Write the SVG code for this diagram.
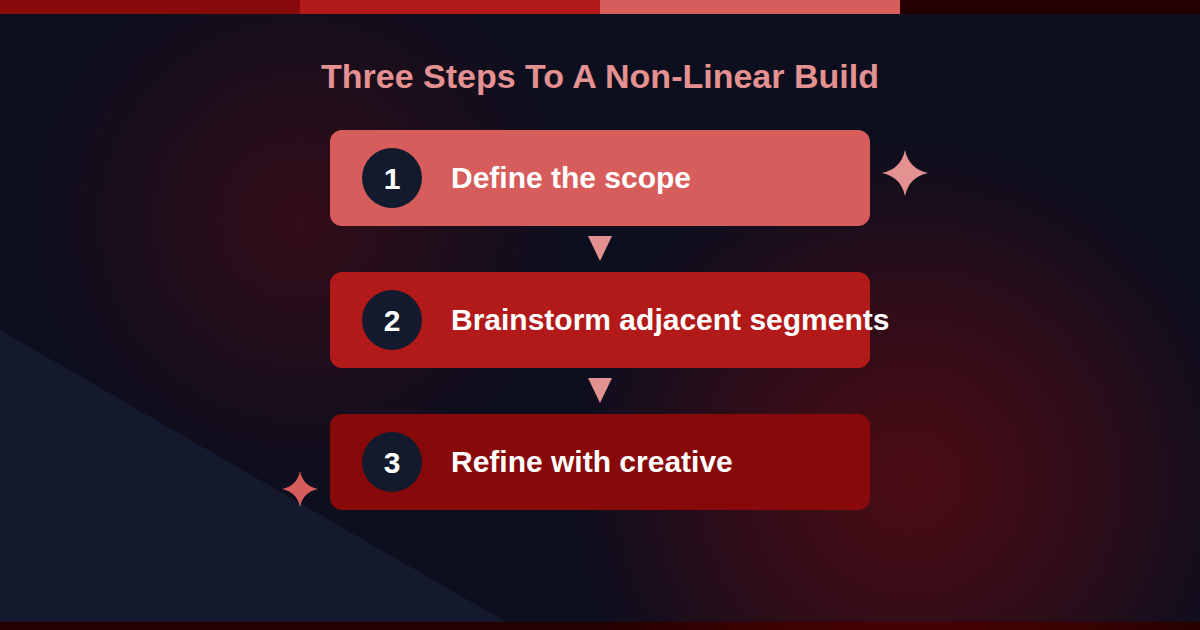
<svg xmlns="http://www.w3.org/2000/svg" width="1200" height="630" viewBox="0 0 1200 630">
<defs>
<radialGradient id="g1" cx="300" cy="220" r="270" gradientUnits="userSpaceOnUse">
<stop offset="0" stop-color="#8B0A0A" stop-opacity="0.3"/>
<stop offset="1" stop-color="#8B0A0A" stop-opacity="0"/>
</radialGradient>
<radialGradient id="g2" cx="910" cy="480" r="340" gradientUnits="userSpaceOnUse">
<stop offset="0" stop-color="#8B0A0A" stop-opacity="0.5"/>
<stop offset="0.5" stop-color="#8B0A0A" stop-opacity="0.28"/>
<stop offset="1" stop-color="#8B0A0A" stop-opacity="0"/>
</radialGradient>
</defs>
<style>
.title{font-family:"Liberation Sans",Arial,sans-serif;font-weight:bold;font-size:34px;fill:#E39191;}
.num{font-family:"Liberation Sans",Arial,sans-serif;font-weight:bold;font-size:30px;fill:#ffffff;}
.lbl{font-family:"Liberation Sans",Arial,sans-serif;font-weight:bold;font-size:30px;fill:#ffffff;}
.badge{fill:#131A2E;}
.arrow{fill:#E39191;}
</style>
<rect width="1200" height="630" fill="#0D0E1E"/>
<rect width="1200" height="630" fill="url(#g1)"/>
<polygon points="0,330 520,630 0,630" fill="#14192E"/>
<rect x="0" y="622" width="1200" height="8" fill="#250000"/>
<rect x="0" y="14" width="1200" height="616" fill="url(#g2)"/>
<rect x="0" y="0" width="300" height="14" fill="#880909"/>
<rect x="300" y="0" width="300" height="14" fill="#B21A1A"/>
<rect x="600" y="0" width="300" height="14" fill="#D75C5C"/>
<rect x="900" y="0" width="300" height="14" fill="#250000"/>
<text class="title" x="600" y="88" text-anchor="middle">Three Steps To A Non-Linear Build</text>
<g id="connectors">
<polygon class="arrow" points="588,236 612,236 600,261"/>
<polygon class="arrow" points="588,378 612,378 600,403"/>
</g>
<g id="step1">
<rect x="330" y="130" width="540" height="96" rx="12" fill="#D75C5C"/>
<circle class="badge" cx="392" cy="178" r="30"/>
<text class="num" x="392" y="189" text-anchor="middle">1</text>
<text class="lbl" x="451" y="188">Define the scope</text>
</g>
<g id="step2">
<rect x="330" y="272" width="540" height="96" rx="12" fill="#B21A1A"/>
<circle class="badge" cx="392" cy="320" r="30"/>
<text class="num" x="392" y="331" text-anchor="middle">2</text>
<text class="lbl" x="451" y="330">Brainstorm adjacent segments</text>
</g>
<g id="step3">
<rect x="330" y="414" width="540" height="96" rx="12" fill="#880909"/>
<circle class="badge" cx="392" cy="462" r="30"/>
<text class="num" x="392" y="473" text-anchor="middle">3</text>
<text class="lbl" x="451" y="472">Refine with creative</text>
</g>
<path d="M905,150 Q909,169 928,173 Q909,177 905,196 Q901,177 882,173 Q901,169 905,150 Z" fill="#E39191"/>
<path d="M300,471 Q303,486 318,489 Q303,492 300,507 Q297,492 282,489 Q297,486 300,471 Z" fill="#D75C5C"/>
</svg>
